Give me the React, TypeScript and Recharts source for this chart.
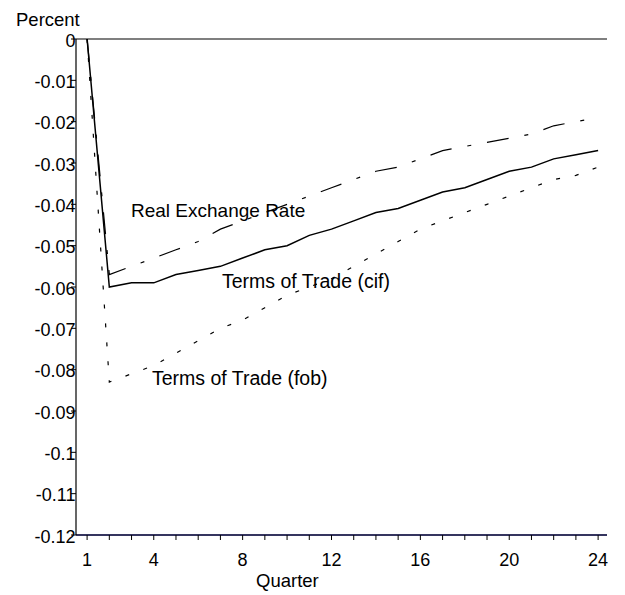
import { LineChart, Line, XAxis, YAxis, ReferenceLine } from 'recharts'

const quarters = [1, 2, 3, 4, 5, 6, 7, 8, 9, 10, 11, 12, 13, 14, 15, 16, 17, 18, 19, 20, 21, 22, 23, 24]

const realExchangeRate = [
  0, -0.057, -0.055, -0.053, -0.051, -0.049, -0.046, -0.044, -0.042, -0.040, -0.038, -0.036,
  -0.034, -0.032, -0.031, -0.029, -0.027, -0.026, -0.025, -0.024, -0.023, -0.021, -0.020, -0.019,
]

const totCif = [
  0, -0.060, -0.059, -0.059, -0.057, -0.056, -0.055, -0.053, -0.051, -0.050, -0.0475, -0.046,
  -0.044, -0.042, -0.041, -0.039, -0.037, -0.036, -0.034, -0.032, -0.031, -0.029, -0.028, -0.027,
]

const totFob = [
  0, -0.083, -0.081, -0.079, -0.076, -0.073, -0.070, -0.068, -0.065, -0.062, -0.060, -0.058,
  -0.055, -0.052, -0.049, -0.046, -0.044, -0.042, -0.040, -0.038, -0.036, -0.034, -0.033, -0.031,
]

const xLabels = [1, 4, 8, 12, 16, 20, 24]
const yTicks = [0, -0.01, -0.02, -0.03, -0.04, -0.05, -0.06, -0.07, -0.08, -0.09, -0.1, -0.11, -0.12]

const FONT = '"Liberation Sans", Arial, sans-serif'
const NAVY = '#35355f'

const data = quarters.map((q, i) => ({
  q,
  rer: realExchangeRate[i],
  cif: totCif[i],
  fob: totFob[i],
}))

// only some of the quarter ticks carry a label
function XTick(props: any) {
  const { x, y, payload } = props
  if (!xLabels.includes(payload.value)) return null
  return (
    <text x={x} y={y + 26} textAnchor="middle" fontSize={18} fontFamily={FONT} fill="#000">
      {payload.value}
    </text>
  )
}

function YTick(props: any) {
  const { x, y, payload } = props
  const label = String(Number(payload.value.toFixed(2)))
  return (
    <text x={x + 4.5} y={y + 7.5} textAnchor="end" fontSize={18} fontFamily={FONT} fill="#000">
      {label}
    </text>
  )
}

export default function App() {
  return (
    <div style={{ position: 'absolute', left: 0, top: 0, width: 625, height: 595, background: '#fff' }}>
      <LineChart
        width={625}
        height={595}
        data={data}
        margin={{ top: 39, right: 18, left: 0, bottom: 0 }}
        style={{ fontFamily: FONT }}
      >
        <XAxis
          dataKey="q"
          type="number"
          domain={[0.5, 24.4]}
          ticks={quarters}
          allowDataOverflow
          height={60}
          tickSize={5}
          tickMargin={0}
          tick={<XTick />}
          axisLine={{ stroke: NAVY, strokeWidth: 2 }}
          tickLine={{ stroke: '#000' }}
        />
        <YAxis
          type="number"
          domain={[-0.12, 0]}
          ticks={yTicks}
          width={76}
          tickSize={5}
          tickMargin={0}
          tick={<YTick />}
          axisLine={{ stroke: '#000', strokeWidth: 1.2 }}
          tickLine={{ stroke: '#000' }}
        />
        <ReferenceLine y={0} stroke="#000" strokeWidth={1.2} />
        <Line
          type="linear"
          dataKey="rer"
          stroke="#000"
          strokeWidth={1.2}
          strokeDasharray="22 16 4 16"
          dot={false}
          isAnimationActive={false}
        />
        <Line
          type="linear"
          dataKey="cif"
          stroke="#000"
          strokeWidth={1.5}
          dot={false}
          isAnimationActive={false}
        />
        <Line
          type="linear"
          dataKey="fob"
          stroke="#000"
          strokeWidth={1.2}
          strokeDasharray="4 15"
          dot={false}
          isAnimationActive={false}
        />
      </LineChart>
      <svg
        width={625}
        height={595}
        style={{ position: 'absolute', left: 0, top: 0, pointerEvents: 'none' }}
        fontFamily={FONT}
        fill="#000"
      >
        <text x={16} y={26} fontSize={18.5}>Percent</text>
        <text x={256} y={587} fontSize={18.5}>Quarter</text>
        <text x={131} y={216.5} fontSize={19}>Real Exchange Rate</text>
        <text x={222} y={287.5} fontSize={19.5}>Terms of Trade (cif)</text>
        <text x={152} y={384.5} fontSize={19.5}>Terms of Trade (fob)</text>
      </svg>
    </div>
  )
}
